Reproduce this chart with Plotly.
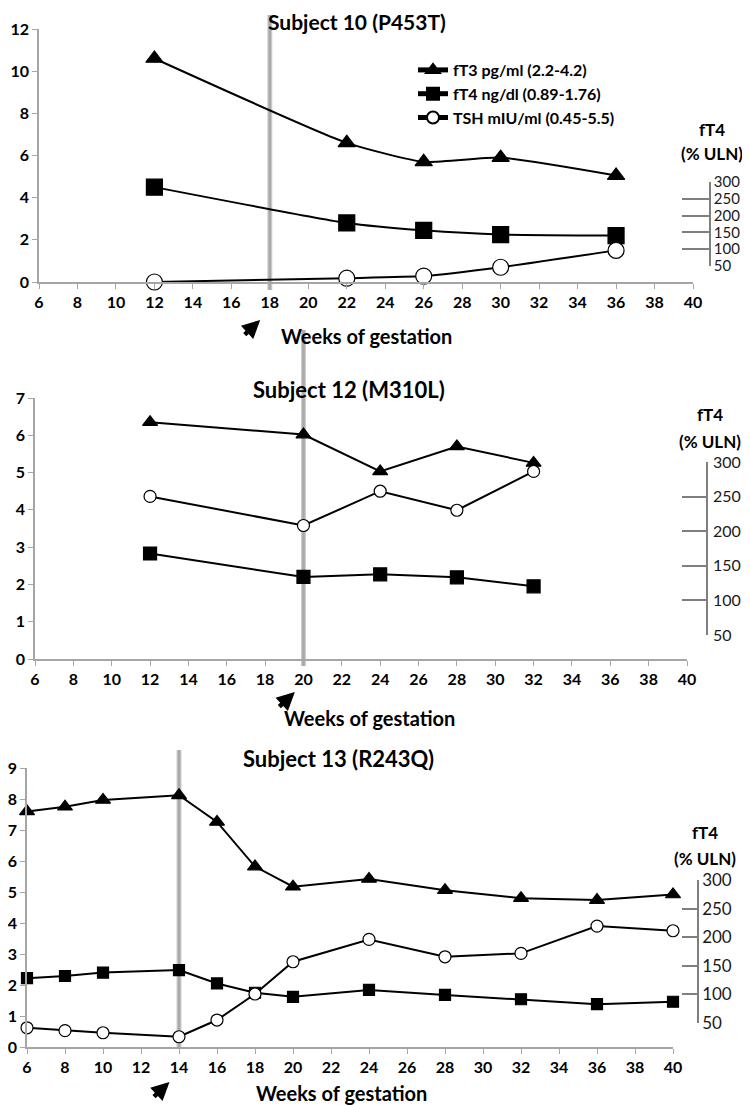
import plotly.graph_objects as go

# ---------------- data ----------------
week_ticks = list(range(6, 41, 2))
uln_ticks = [50, 100, 150, 200, 250, 300]

weeks10 = [12, 22, 26, 30, 36]
ft3_10 = [10.6, 6.6, 5.7, 5.9, 5.05]
ft4_10 = [4.5, 2.8, 2.45, 2.25, 2.2]
tsh_10 = [0.0, 0.18, 0.28, 0.7, 1.5]

weeks12 = [12, 20, 24, 28, 32]
ft3_12 = [6.35, 6.02, 5.03, 5.7, 5.26]
ft4_12 = [2.83, 2.2, 2.27, 2.19, 1.95]
tsh_12 = [4.36, 3.58, 4.5, 3.99, 5.03]

weeks13 = [6, 8, 10, 14, 16, 18, 20, 24, 28, 32, 36, 40]
ft3_13 = [7.6, 7.75, 7.97, 8.12, 7.26, 5.82, 5.17, 5.42, 5.06, 4.8, 4.74, 4.92]
ft4_13 = [2.22, 2.29, 2.4, 2.48, 2.05, 1.75, 1.62, 1.84, 1.68, 1.54, 1.38, 1.46]
tsh_13 = [0.62, 0.53, 0.46, 0.33, 0.87, 1.71, 2.75, 3.47, 2.91, 3.02, 3.9, 3.75]

titles = ["Subject 10 (P453T)", "Subject 12 (M310L)", "Subject 13 (R243Q)"]
legend_names = ["fT3 pg/ml (2.2-4.2)", "fT4 ng/dl (0.89-1.76)", "TSH mIU/ml (0.45-5.5)"]
event_weeks = [18, 20, 14]
arrow_weeks = [17.5, 19.55, 13.5]
y_max = [12, 7, 9]
y_step = [2, 1, 1]

# ---------------- layout geometry (page pixels) ----------------
W, H = 750, 1105
OFF = 8  # the page body margin shifts the figure by 8px
FONT = "Lato"


def py(p):
    return 1 - (p - OFF) / H


def px(p):
    return (p - OFF) / W


panels = [
    dict(x=(39, 693), y=(282, 29), r_pos=710, r_y=(266, 182), r_len=27,
         r_font=15, r_stand=0, vline=(15, 290), title_y=22, title_size=21,
         title_x=357, xl_y=336, xl_x=366, arrow_y=320, ft4_y=(129, 154),
         ft4_x=712, ms=(15, 16, 16), spline=True),
    dict(x=(35, 687), y=(659, 398), r_pos=707, r_y=(635, 462), r_len=24,
         r_font=16, r_stand=2, vline=(330, 666), title_y=389, title_size=22,
         title_x=349, xl_y=718, xl_x=369, arrow_y=692, ft4_y=(414, 442),
         ft4_x=710, ms=(13, 13, 12), spline=False),
    dict(x=(27, 673), y=(1047, 768), r_pos=698, r_y=(1023, 880), r_len=15,
         r_font=17, r_stand=0, vline=(750, 1048), title_y=758, title_size=22,
         title_x=338, xl_y=1093, xl_x=341, arrow_y=1082, ft4_y=(832, 858),
         ft4_x=705, ms=(13, 11, 12), spline=False),
]

data = [
    (weeks10, ft3_10, ft4_10, tsh_10),
    (weeks12, ft3_12, ft4_12, tsh_12),
    (weeks13, ft3_13, ft4_13, tsh_13),
]

fig = go.Figure()
layout = dict(
    width=W, height=H,
    margin=dict(l=0, r=0, t=0, b=0, pad=0, autoexpand=False),
    paper_bgcolor="white", plot_bgcolor="rgba(0,0,0,0)",
    font=dict(family=FONT, color="black"),
    showlegend=True,
    legend=dict(x=px(413), y=py(53), xanchor="left", yanchor="top",
                font=dict(family=FONT, size=16, weight="bold", color="black"),
                bgcolor="rgba(0,0,0,0)", traceorder="grouped",
                tracegroupgap=0, itemsizing="constant", itemwidth=30),
)
shapes = []
annotations = []

axis_gray = "#A6A6A6"
bold_week_labels = [f"<b>{w}</b>" for w in week_ticks]

for i, (pnl, (wk, f3, f4, ts)) in enumerate(zip(panels, data)):
    n = i + 1
    xa = "x" if n == 1 else f"x{n}"
    ya = "y" if n == 1 else f"y{n}"
    ra = f"y{n + 3}"
    xkey = "xaxis" if n == 1 else f"xaxis{n}"
    ykey = "yaxis" if n == 1 else f"yaxis{n}"
    rkey = f"yaxis{n + 3}"
    yticks = list(range(0, y_max[i] + 1, y_step[i]))

    layout[xkey] = dict(
        domain=[px(pnl["x"][0]), px(pnl["x"][1])], range=[6, 40],
        anchor=ya, tickvals=week_ticks, ticktext=bold_week_labels,
        ticks="outside", ticklen=5, automargin=False,
        tickcolor=axis_gray, tickwidth=1.3, showline=True, linecolor=axis_gray,
        linewidth=1.5, showgrid=False, zeroline=False,
        tickfont=dict(family=FONT, size=16, color="black"),
        fixedrange=True,
    )
    layout[ykey] = dict(
        domain=[py(pnl["y"][0]), py(pnl["y"][1])], range=[0, y_max[i]],
        anchor=xa, tickvals=yticks, ticktext=[f"<b>{v}</b>" for v in yticks],
        ticks="outside", ticklen=5, automargin=False,
        tickcolor=axis_gray, tickwidth=1.3, showline=True, linecolor=axis_gray,
        linewidth=1.5, showgrid=False, zeroline=False,
        tickfont=dict(family=FONT, size=16, color="black"),
        fixedrange=True,
    )
    layout[rkey] = dict(
        domain=[py(pnl["r_y"][0]), py(pnl["r_y"][1])], range=[50, 300],
        anchor="free", position=px(pnl["r_pos"]), side="right",
        tickvals=uln_ticks, ticks="inside", ticklen=pnl["r_len"],
        automargin=False,
        tickcolor="#7F7F7F", tickwidth=1.5, showline=True, linecolor="#7F7F7F",
        linewidth=1.5, showgrid=False, zeroline=False,
        ticklabelstandoff=pnl["r_stand"],
        tickfont=dict(family=FONT, size=pnl["r_font"], color="#1a1a1a"),
        fixedrange=True,
    )

    ms_t, ms_s, ms_c = pnl["ms"]
    line_style = (dict(color="black", width=2, shape="spline", smoothing=0.5)
                  if pnl["spline"] else dict(color="black", width=2))
    series = [
        (f3, "triangle-up", ms_t, "black", legend_names[0]),
        (f4, "square", ms_s, "black", legend_names[1]),
        (ts, "circle", ms_c, "white", legend_names[2]),
    ]
    for vals, sym, ms, fill, name in series:
        fig.add_trace(go.Scatter(
            x=wk, y=vals, xaxis=xa, yaxis=ya, mode="lines+markers",
            name=name, legendgroup=name, showlegend=(n == 1),
            cliponaxis=False, line=line_style,
            marker=dict(symbol=sym, size=ms, color=fill,
                        line=dict(color="black", width=1.2)),
            hoverinfo="skip",
        ))
    # invisible trace to activate the right-hand fT4 (% ULN) axis
    fig.add_trace(go.Scatter(
        x=[6, 6], y=[50, 300], xaxis=xa, yaxis=ra, mode="markers",
        marker=dict(opacity=0), showlegend=False, hoverinfo="skip",
    ))

    # gestation event line
    shapes.append(dict(type="line", xref=xa, yref="paper",
                       x0=event_weeks[i], x1=event_weeks[i],
                       y0=py(pnl["vline"][1]), y1=py(pnl["vline"][0]),
                       line=dict(color="rgba(160,160,160,0.55)", width=5),
                       layer="below"))
    shapes.append(dict(type="line", xref=xa, yref="paper",
                       x0=event_weeks[i], x1=event_weeks[i],
                       y0=py(pnl["vline"][1]), y1=py(pnl["vline"][0]),
                       line=dict(color="#A9A9A9", width=2.5),
                       layer="below"))

    # title
    annotations.append(dict(text=titles[i], xref="paper", yref="paper",
                            x=px(pnl["title_x"]), y=py(pnl["title_y"]),
                            xanchor="center", yanchor="middle", showarrow=False,
                            font=dict(family=FONT, size=pnl["title_size"],
                                      weight="bold", color="black")))
    # x axis label
    annotations.append(dict(text="Weeks of gestation", xref="paper", yref="paper",
                            x=px(pnl["xl_x"]), y=py(pnl["xl_y"]),
                            xanchor="center", yanchor="middle", showarrow=False,
                            font=dict(family=FONT, size=20, weight="bold", color="black")))
    # right axis title
    annotations.append(dict(text="fT4", xref="paper", yref="paper",
                            x=px(pnl["ft4_x"]), y=py(pnl["ft4_y"][0]),
                            xanchor="center", yanchor="middle", showarrow=False,
                            font=dict(family=FONT, size=17, weight="bold", color="black")))
    annotations.append(dict(text="(% ULN)", xref="paper", yref="paper",
                            x=px(pnl["ft4_x"]), y=py(pnl["ft4_y"][1]),
                            xanchor="center", yanchor="middle", showarrow=False,
                            font=dict(family=FONT, size=17, weight="bold", color="black")))
    # arrow marking the event week
    annotations.append(dict(text="", xref=xa, yref="paper",
                            x=arrow_weeks[i], y=py(pnl["arrow_y"]),
                            ax=-17, ay=16, axref="pixel", ayref="pixel",
                            showarrow=True, arrowhead=2, arrowsize=0.8,
                            arrowwidth=4.5, arrowcolor="black"))

layout["shapes"] = shapes
layout["annotations"] = annotations
fig.update_layout(**layout)
fig.write_html("out.html")
